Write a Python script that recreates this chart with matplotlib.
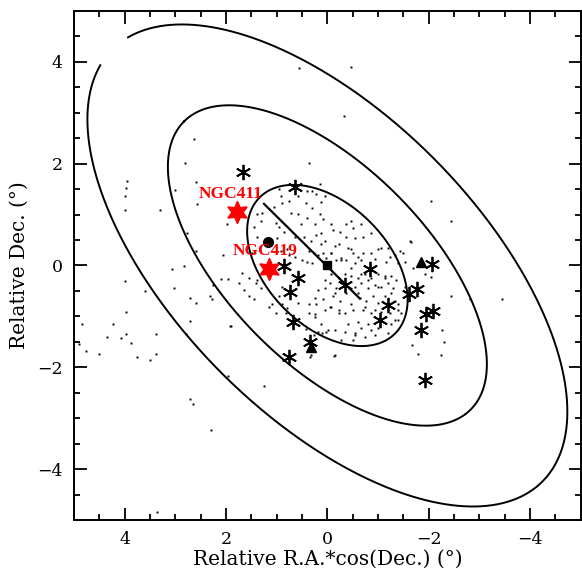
import numpy as np
import matplotlib
matplotlib.use('Agg')
import matplotlib.pyplot as plt
from matplotlib.ticker import MultipleLocator

# elipses (centro em 0,0, eixo maior a 45 graus)
ell_a = [1.89, 4.0, 6.0]
ell_b = [1.20, 1.95, 2.97]
ell_ang = 45.0
# abertura (em graus) na ponta da elipse externa
ell_gap = [0.0, 0.0, 7.5]

# eixo principal
eixo_x = [1.25, -0.64]
eixo_y = [1.21, -0.65]

# aglomerados
ast_x = [1.67, 0.63, 0.86, 0.57, 0.73, 0.67, 0.34, 0.76, -0.35, -0.84, -1.2, -1.03,
         -1.61, -1.77, -2.06, -1.95, -2.08, -1.85, -1.92]
ast_y = [1.84, 1.54, -0.02, -0.24, -0.52, -1.11, -1.5, -1.8, -0.39, -0.07, -0.77, -1.08,
         -0.57, -0.46, 0.03, -0.95, -0.9, -1.27, -2.24]
tri_x = [-1.84, 0.33]
tri_y = [0.06, -1.6]
circ_x = [1.18]
circ_y = [0.47]
sq_x = [0.0]
sq_y = [0.0]

ngc_nome = ['NGC411', 'NGC419']
ngc_x = [1.78, 1.16]
ngc_y = [1.06, -0.06]
ngc_lx = [1.9, 1.22]
ngc_ly = [1.41, 0.29]

# estrelas de campo (pontos)
pt_x = [3.96, 3.98, 4.0, 4.0, 3.31, 2.63, 2.80, 2.59, 3.0, 1.98, 2.06, 3.06, 2.82, 4.0, 3.59,
        3.02, 2.71, 2.59, 2.31, 2.27, 2.1, 1.96, 3.98, 2.25, 2.57, 2.76, 2.59,
        4.84, 4.9, 4.76, 4.22, 4.35, 3.98, 4.08, 3.88, 4.51, 3.76, 3.49, 3.39, 3.39, 2.71,
        2.78, 1.92, 2.71, 2.65, 2.29, 1.96, 1.25, 3.37, 0.35, 0.24, 0.1,
        -0.47, -0.33, 0.55, 0.37, -2.04, -2.43, -1.65, -3.45, -2.43, -2.27, -2.31, -2.24,
        -1.67, -2.04, -0.14, -2.82,
        0.96, 0.92, 0.90, 1.06, 1.29, 1.39, 1.31, 1.02, 0.96, 0.86, 0.76, 0.71, 0.57, 0.43,
        0.41, 0.31, 0.24, 0.14, 0.08, 0.53, 0.63, 0.47, 0.33, 0.22, 0.12, 0.37, 0.27, 0.18,
        0.08, 0.02, 0.92, 0.80, 0.76, 0.63, 0.51, 0.41, 0.31, 0.22, 0.12, 0.57, 0.41, 1.45,
        1.39, 1.49, 1.0, 0.31, 0.14, 0.04,
        -0.08, -0.37, -0.51, -0.25, -0.55, -0.71, -0.16, -0.41, -0.51, -0.71, -0.86, -1.0,
        -1.2, -1.33, -1.43, -0.27, -0.37, -0.55, -0.67, -0.94, -1.16, -1.53, -0.08, -0.18,
        1.75, 1.65, 1.55, 1.45, 1.10, 0.96, 0.90, 0.80, 0.57, 0.37, 0.22, 0.24, 0.18, 0.04,
        0.08, 0.37, 0.24, 0.04, 0.12, 0.02, 0.18, 0.27, 0.43, 0.82, 1.02, 1.16, 0.90, 1.55,
        1.69, 1.39, 1.31, 0.33, 1.90, 1.41,
        -0.08, -0.22, -0.35, -0.47, -0.61, -0.75, -0.86, -1.0, -1.14, -1.25, -0.06, -0.18,
        -0.12, -0.25, -0.37, -0.55, -0.67, -0.80, -0.94, -1.06, -1.2, -1.29, -0.65, -0.76,
        -0.90, -1.0, -1.14, -1.33, -1.39, -1.24, -1.06, -0.86, -0.71, -0.51, -0.35, -0.22,
        -0.08, -0.41, -0.61, -0.80, -1.0, -1.25, -1.39, -0.16, -0.35, -0.55, -0.75, -0.94,
        -1.2, -0.27, -0.51, -0.16, -1.92, -1.78,
        0.12, 0.04, -0.12, -0.22, -0.37, -0.47, -0.08, -0.27, -0.47, -0.61, -0.67, -0.80,
        -0.86, -1.0, -1.14, -1.25, -1.35, -1.39, -0.61, -0.47, -0.75, -0.94, -1.14, -1.33,
        -0.22, -0.67, -0.86, -0.55, -0.02, 0.04, -0.16, -0.06, -1.24, -1.39, -1.49, -1.06,
        -0.86, -0.67, -0.47, -1.63, -1.69, -1.53, -1.45]
pt_y = [1.65, 1.53, 1.37, 1.08, 1.08, 2.49, 2.02, 1.63, 1.49, 0.82, 0.2, -0.06, -0.02, -0.31,
        -0.51, -0.45, -0.63, -0.73, -0.59, -0.65, -0.27, -0.27, -0.92, -0.39, 1.2, 0.63, 0.29,
        -1.14, -1.55, -1.67, -1.14, -1.41, -1.35, -1.43, -1.53, -1.73, -1.8, -1.86, -1.73,
        -1.35, -1.1, -1.35, -1.18, -2.63, -2.73, -3.24, -2.18, -2.37, -4.84, -1.8, -0.96, -1.33,
        3.9, 2.94, 3.88, 2.02, 1.27, 0.88, 0.47, -0.65, -0.59, -1.27, -1.51, -1.75, -1.57,
        -0.22, -1.78, -0.65,
        1.51, 1.37, 1.22, 1.14, 1.04, 1.02, 0.88, 0.84, 0.75, 0.65, 1.27, 1.04, 1.02, 1.22,
        0.94, 1.12, 0.82, 1.02, 0.92, 0.82, 0.55, 0.55, 0.49, 0.59, 0.43, 0.29, 0.24, 0.20,
        0.25, 0.14, 0.29, 0.33, 0.20, 0.16, 0.10, 0.06, 0.04, 1.41, 1.24, 1.37, 1.47, 0.75,
        0.55, 0.25, 0.53, 1.47, 1.61, 1.37,
        0.82, 0.82, 0.73, 0.65, 0.53, 0.55, 0.39, 0.35, 0.25, 0.25, 0.24, 0.33, 0.35, 0.20,
        0.29, 0.14, 0.10, 0.04, 0.10, 0.12, 0.06, 0.06, 0.25, 0.10,
        -0.35, -0.49, -0.59, -0.65, -0.75, -0.59, -0.75, -0.84, -0.73, -0.75, -0.75, -0.63,
        -0.49, -0.45, -0.65, -0.94, -1.02, -0.88, -1.14, -1.31, -1.31, -1.37, -1.24, -0.94,
        -0.94, -0.82, -0.43, -0.24, -0.14, -0.29, -0.45, -1.76, -1.18, -0.35,
        -0.16, -0.24, -0.16, -0.20, -0.25, -0.16, -0.24, -0.16, -0.25, -0.20, -0.35, -0.45,
        -0.59, -0.69, -0.55, -0.43, -0.35, -0.45, -0.39, -0.43, -0.35, -0.45, -0.63, -0.69,
        -0.59, -0.73, -0.59, -0.69, -0.88, -0.94, -0.92, -0.94, -0.88, -0.88, -0.94, -0.88,
        -0.82, -1.14, -1.12, -1.14, -1.22, -1.14, -1.08, -1.27, -1.31, -1.37, -1.41, -1.37,
        -1.33, -1.47, -1.47, -1.76, -0.16, -1.73,
        0.63, 0.49, 0.69, 0.43, 0.55, 0.33, 0.24, 0.10, -0.04, 0.16, -0.16, -0.29, -0.04,
        -0.43, -0.20, -0.55, -0.29, -0.75, -0.55, -0.75, -0.82, -0.88, -1.02, -1.08, -0.94,
        -1.22, -1.27, -1.33, -1.27, -0.29, -0.55, -0.82, 0.16, 0.04, 0.24, 0.35, 0.63, 0.82,
        0.88, 0.49, -0.04, -0.43, -0.94]

plt.rcParams['font.family'] = 'DejaVu Serif'
plt.rcParams['axes.unicode_minus'] = True

fig = plt.figure(figsize=(5.82, 5.74), dpi=100)
ax = fig.add_axes([0.127, 0.094, 0.871, 0.887])

# pontos de campo
ax.plot(pt_x, pt_y, 's', ms=1.4, color='k', mec='none')

# elipses
for a, b, gap in zip(ell_a, ell_b, ell_gap):
    t = np.radians(np.linspace(gap, 360 - gap, 600))
    u = a*np.cos(t)
    v = b*np.sin(t)
    ang = np.radians(ell_ang)
    ax.plot(u*np.cos(ang) - v*np.sin(ang), u*np.sin(ang) + v*np.cos(ang), '-', color='k', lw=1.4)

ax.plot(eixo_x, eixo_y, '-', color='k', lw=1.6)

ax.plot(ast_x, ast_y, ls='none', marker=(6, 2, 0), ms=11, mew=1.3, color='k')
ax.plot(tri_x, tri_y, '^', ms=7.5, color='k')
ax.plot(circ_x, circ_y, 'o', ms=7, color='k')
ax.plot(sq_x, sq_y, 's', ms=6, color='k')
ax.plot(ngc_x, ngc_y, ls='none', marker=(6, 1, 0), ms=16, color='red', mec='red')
for nome, lx, ly in zip(ngc_nome, ngc_lx, ngc_ly):
    ax.text(lx, ly, nome, color='red', fontsize=12.5, fontweight='bold',
            family='Liberation Serif', ha='center', va='center')

ax.set_xlim(5, -5)
ax.set_ylim(-5, 5)
ax.xaxis.set_major_locator(MultipleLocator(2))
ax.yaxis.set_major_locator(MultipleLocator(2))
ax.xaxis.set_minor_locator(MultipleLocator(0.5))
ax.yaxis.set_minor_locator(MultipleLocator(0.5))
ax.tick_params(which='both', direction='in', top=True, right=True, width=1.3)
ax.tick_params(which='major', length=9, pad=8, labelsize=12.5)
ax.tick_params(which='minor', length=4.5)
for s in ax.spines.values():
    s.set_linewidth(1.4)

ax.set_xlabel('Relative R.A.*cos(Dec.) (°)', fontsize=14.5, labelpad=1)
ax.set_ylabel('Relative Dec. (°)', fontsize=14.5, labelpad=6)

fig.savefig('out.png', dpi=100)
